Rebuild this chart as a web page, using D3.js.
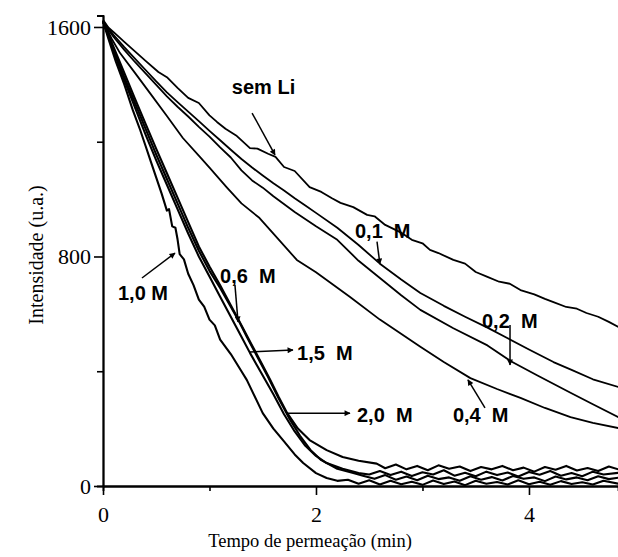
<!DOCTYPE html>
<html>
<head>
<meta charset="utf-8">
<script src="https://cdn.jsdelivr.net/npm/d3@7"></script>
<style>
  body { margin: 0; background: #fff; }
  svg { display: block; }
  .serif { font-family: 'Liberation Serif', 'Times New Roman', serif; }
</style>
</head>
<body>
<svg id="chart" width="618" height="557"></svg>
<script>
// curves: [tempo (min), intensidade (u.a.)]
var semLi = [[0,1625],[0.05,1598],[0.1,1582],[0.2,1548],[0.3,1515],[0.4,1482],[0.52,1443],[0.6,1425],[0.7,1388],[0.8,1353],[0.9,1335],[1.0,1292],[1.07,1269],[1.15,1245],[1.25,1222],[1.38,1178],[1.45,1176],[1.55,1158],[1.62,1147],[1.7,1112],[1.8,1098],[1.94,1042],[2.05,1025],[2.15,1003],[2.23,987],[2.35,972],[2.48,945],[2.55,940],[2.65,910],[2.79,885],[2.9,858],[3.0,846],[3.07,823],[3.15,812],[3.29,788],[3.4,775],[3.5,746],[3.61,729],[3.72,712],[3.82,705],[3.92,683],[4.05,668],[4.15,652],[4.23,641],[4.35,624],[4.45,618],[4.54,603],[4.65,590],[4.75,572],[4.84,554]]
var m01 = [[0,1620],[0.1,1572],[0.2,1530],[0.3,1490],[0.4,1450],[0.5,1410],[0.6,1372],[0.7,1338],[0.8,1305],[0.9,1272],[1.0,1238],[1.1,1205],[1.2,1172],[1.3,1140],[1.4,1110],[1.5,1082],[1.6,1055],[1.7,1030],[1.8,1003],[1.9,978],[2.0,952],[2.2,900],[2.4,840],[2.6,775],[2.8,720],[2.98,673],[3.2,628],[3.4,590],[3.61,552],[3.8,515],[4.0,476],[4.23,432],[4.4,405],[4.6,372],[4.84,345]]
var m02 = [[0,1615],[0.1,1565],[0.2,1520],[0.3,1478],[0.4,1438],[0.5,1398],[0.6,1358],[0.7,1322],[0.8,1288],[0.9,1252],[1.0,1218],[1.1,1180],[1.2,1145],[1.3,1100],[1.4,1065],[1.5,1040],[1.6,1010],[1.8,955],[2.0,905],[2.2,858],[2.4,785],[2.6,725],[2.8,665],[2.98,614],[3.29,550],[3.61,490],[3.83,435],[4.08,385],[4.39,325],[4.6,285],[4.84,240]]
var m04 = [[0,1620],[0.08,1560],[0.16,1509],[0.3,1440],[0.45,1365],[0.6,1290],[0.75,1213],[0.91,1147],[1.0,1110],[1.16,1042],[1.3,985],[1.47,934],[1.6,880],[1.82,788],[2.0,745],[2.32,659],[2.6,580],[2.98,485],[3.2,432],[3.45,376],[3.7,338],[3.92,307],[4.15,272],[4.39,240],[4.6,220],[4.84,202]]
var m06 = [[0,1620],[0.1,1520],[0.2,1425],[0.3,1335],[0.4,1245],[0.5,1155],[0.6,1070],[0.7,985],[0.8,900],[0.9,820],[1.0,750],[1.1,690],[1.2,625],[1.27,579],[1.35,520],[1.45,450],[1.55,380],[1.65,305],[1.75,235],[1.85,175],[1.95,125],[2.05,90],[2.2,60],[2.35,45],[2.45,35],[2.55,25],[2.65,38],[2.75,22],[2.85,33],[2.95,20],[3.05,36],[3.15,24],[3.25,30],[3.35,18],[3.45,34],[3.55,22],[3.65,31],[3.75,19],[3.85,35],[3.95,25],[4.05,30],[4.15,17],[4.25,33],[4.35,23],[4.45,30],[4.55,20],[4.65,34],[4.75,24],[4.84,29]]
var m10 = [[0,1620],[0.05,1560],[0.12,1480],[0.2,1400],[0.28,1310],[0.35,1240],[0.4,1185],[0.45,1130],[0.5,1075],[0.55,1020],[0.6,960],[0.62,965],[0.65,905],[0.68,900],[0.7,860],[0.72,808],[0.76,790],[0.8,740],[0.85,700],[0.9,650],[0.95,625],[1.0,580],[1.05,560],[1.1,510],[1.2,460],[1.3,400],[1.35,370],[1.5,254],[1.6,200],[1.69,160],[1.8,110],[1.88,80],[2.0,45],[2.1,28],[2.2,18],[2.3,22],[2.4,8],[2.5,20],[2.6,5],[2.7,18],[2.8,6],[2.9,15],[3.0,4],[3.1,19],[3.2,7],[3.3,16],[3.4,3],[3.5,18],[3.6,8],[3.7,14],[3.8,5],[3.9,20],[4.0,6],[4.1,15],[4.2,4],[4.3,17],[4.4,7],[4.5,13],[4.6,5],[4.7,18],[4.84,8]]
var m15 = [[0,1620],[0.1,1515],[0.2,1415],[0.3,1320],[0.4,1225],[0.5,1135],[0.6,1050],[0.7,965],[0.8,880],[0.9,800],[1.0,730],[1.1,660],[1.2,590],[1.3,520],[1.38,464],[1.5,385],[1.6,320],[1.7,250],[1.8,190],[1.9,140],[2.0,105],[2.1,80],[2.25,60],[2.4,45],[2.5,40],[2.6,52],[2.7,38],[2.8,50],[2.9,35],[3.0,48],[3.1,40],[3.2,55],[3.3,36],[3.4,46],[3.5,34],[3.6,50],[3.7,38],[3.8,47],[3.9,33],[4.0,49],[4.1,39],[4.2,52],[4.3,36],[4.4,45],[4.5,34],[4.6,50],[4.7,40],[4.84,46]]
var m20 = [[0,1620],[0.1,1530],[0.2,1440],[0.3,1350],[0.4,1262],[0.5,1175],[0.6,1090],[0.7,1005],[0.8,920],[0.9,835],[1.0,765],[1.1,700],[1.2,630],[1.3,560],[1.4,490],[1.5,420],[1.57,370],[1.65,310],[1.73,254],[1.83,200],[1.94,160],[2.1,125],[2.25,101],[2.4,88],[2.57,78],[2.65,62],[2.75,75],[2.85,58],[2.95,70],[3.05,55],[3.15,72],[3.25,60],[3.35,68],[3.45,52],[3.55,66],[3.65,58],[3.75,70],[3.85,55],[3.95,64],[4.05,50],[4.15,66],[4.25,57],[4.35,70],[4.45,54],[4.55,63],[4.65,52],[4.75,68],[4.84,58]]

var seriesList = [semLi, m01, m02, m04, m06, m10, m15, m20]
var fastSeries = [m06, m10, m15, m20]

var xMajor = [0, 2, 4]
var xMinor = [1, 3]
var yMajor = [0, 800, 1600]
var yMinor = [400, 1200]

// label text, text anchor point (t, v), arrow from (t, v) to (t, v)
var labelText = ["sem Li", "0,1  M", "0,2  M", "0,4  M", "2,0  M", "1,5  M", "0,6  M", "1,0 M"]
var labelPos = [[1.21, 1365], [2.366, 864], [3.559, 551], [3.286, 223], [2.385, 223], [1.822, 439], [1.099, 708], [0.141, 648]]
var arrowFrom = [[1.40, 1300], [2.573, 852], [3.822, 561], [3.587, 272], [1.728, 254], [1.38, 467], [1.239, 701], [0.366, 725]]
var arrowTo = [[1.615, 1154], [2.60, 774], [3.822, 422], [3.427, 370], [2.319, 254], [1.784, 474], [1.268, 572], [0.676, 812]]

var svg = d3.select("#chart")
var x = d3.scaleLinear().domain([0, 4.836]).range([103, 618])
var y = d3.scaleLinear().domain([0, 1640]).range([486, 15.5])

svg.append("defs").append("marker")
  .attr("id", "head").attr("viewBox", "0 0 10 10").attr("refX", 9).attr("refY", 5)
  .attr("markerWidth", 10).attr("markerHeight", 6).attr("markerUnits", "userSpaceOnUse")
  .attr("orient", "auto")
  .append("path").attr("d", "M0,0 L10,5 L0,10 Z").attr("fill", "#000")

//----------------------------------------------------------- curves
var line = d3.line().x(d => x(d[0])).y(d => y(d[1]))
svg.selectAll(".curve").data(seriesList).join("path").attr("class", "curve")
  .attr("d", line).attr("fill", "none").attr("stroke", "#000")
  .attr("stroke-width", d => fastSeries.includes(d) ? 2.1 : 1.8).attr("stroke-linejoin", "round")

//----------------------------------------------------------- axes
function styleAxis(g) {
  g.attr("font-family", null).attr("font-size", null).attr("class", "serif")
  g.select(".domain").attr("stroke-width", 1.8)
  g.selectAll(".tick line").attr("stroke-width", 1.6)
  g.selectAll(".tick text").style("font-size", "22px").attr("fill", "#000")
}
var fmt = d3.format("d")
svg.append("g").attr("transform", "translate(0,486)")
  .call(d3.axisBottom(x).tickValues(xMinor).tickSize(5).tickFormat("")).call(styleAxis)
svg.append("g").attr("transform", "translate(0,486)")
  .call(d3.axisBottom(x).tickValues(xMajor).tickSize(9).tickPadding(11).tickSizeOuter(0).tickFormat(fmt)).call(styleAxis)
svg.append("g").attr("transform", "translate(103,0)")
  .call(d3.axisLeft(y).tickValues(yMinor).tickSize(6).tickFormat("")).call(styleAxis)
svg.append("g").attr("transform", "translate(103,0)")
  .call(d3.axisLeft(y).tickValues(yMajor).tickSize(9).tickPadding(3).tickSizeOuter(0).tickFormat(fmt)).call(styleAxis)

svg.append("text").attr("class", "serif").attr("x", 310).attr("y", 547).attr("text-anchor", "middle")
  .style("font-size", "18.5px").text("Tempo de permeação (min)")
svg.append("text").attr("class", "serif").attr("transform", "translate(43,255) rotate(-90)").attr("text-anchor", "middle")
  .style("font-size", "20px").text("Intensidade (u.a.)")

//----------------------------------------------------------- annotations
svg.selectAll(".arrow").data(labelText).join("line").attr("class", "arrow")
  .attr("x1", (d, i) => x(arrowFrom[i][0])).attr("y1", (d, i) => y(arrowFrom[i][1]))
  .attr("x2", (d, i) => x(arrowTo[i][0])).attr("y2", (d, i) => y(arrowTo[i][1]))
  .attr("stroke", "#000").attr("stroke-width", 1.5).attr("marker-end", "url(#head)")
svg.selectAll(".lbl").data(labelText).join("text").attr("class", "lbl")
  .attr("x", (d, i) => x(labelPos[i][0])).attr("y", (d, i) => y(labelPos[i][1]))
  .style("font-family", "'Liberation Sans', Arial, sans-serif").style("font-weight", "bold")
  .style("font-size", "20px").style("white-space", "pre").text(d => d)
</script>
</body>
</html>
